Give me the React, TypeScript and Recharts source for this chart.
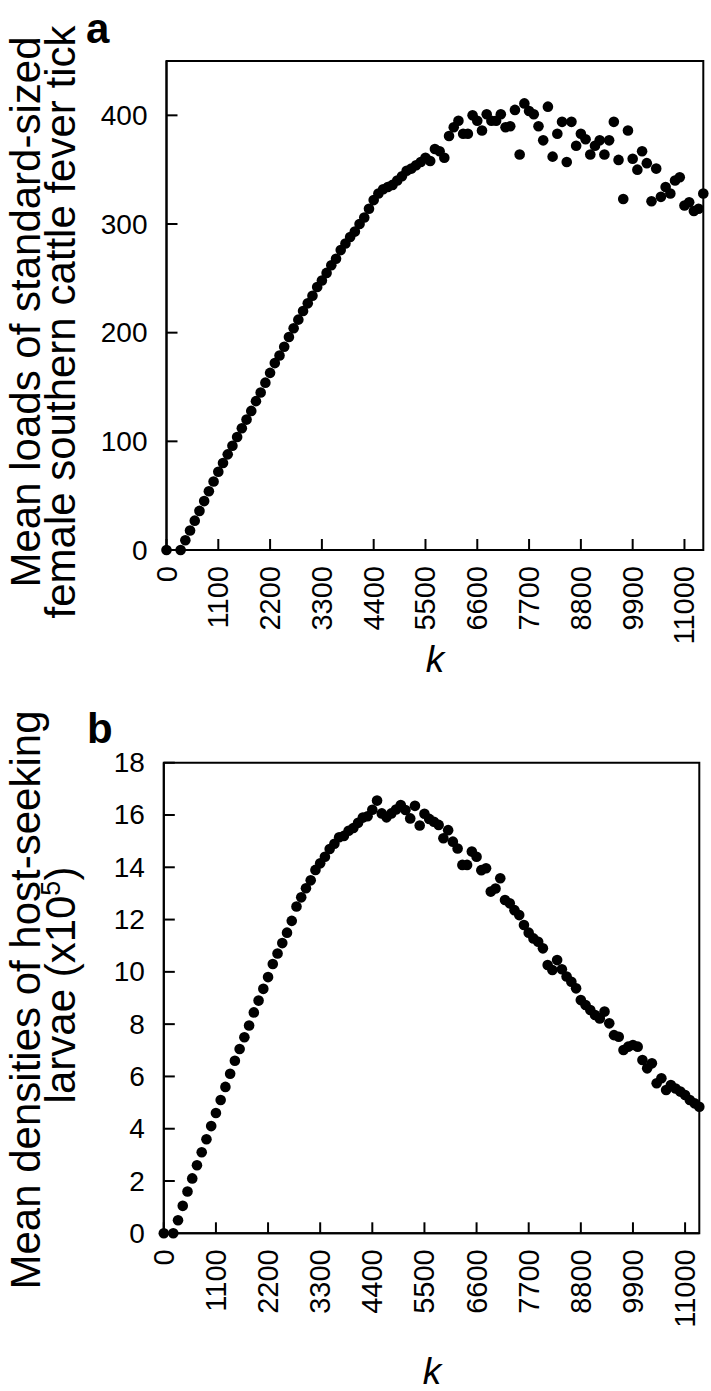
import React from "react";
import { ScatterChart, Scatter, XAxis, YAxis, ReferenceArea } from "recharts";

const FONT = '"Liberation Sans", Arial, sans-serif';

// panel a: k values and mean tick loads
const kA = [
  0, 300, 400, 500, 600, 700, 800, 900, 1000, 1100, 1200, 1300, 1400, 1500, 1600, 1700, 1800, 1900,
  2000, 2100, 2200, 2300, 2400, 2500, 2600, 2700, 2800, 2900, 3000, 3100, 3200, 3300, 3400, 3500,
  3600, 3700, 3800, 3900, 4000, 4100, 4200, 4300, 4400, 4500, 4600, 4700, 4800, 4900, 5000, 5100,
  5200, 5300, 5400, 5500, 5600, 5700, 5800, 5900, 6000, 6100, 6200, 6300, 6400, 6500, 6600, 6700,
  6800, 6900, 7000, 7100, 7200, 7300, 7400, 7500, 7600, 7700, 7800, 7900, 8000, 8100, 8200, 8300,
  8400, 8500, 8600, 8700, 8800, 8900, 9000, 9100, 9200, 9300, 9400, 9500, 9600, 9700, 9800, 9900,
  10000, 10100, 10200, 10300, 10400, 10500, 10600, 10700, 10800, 10900, 11000, 11100, 11200, 11300,
  11400,
];
const loadsA = [
  0, 0, 9, 18, 27, 36, 45, 54, 63, 72, 80, 88, 96, 104, 112, 120, 128, 137,
  145, 154, 163, 172, 179, 187, 196, 204, 212, 220, 227, 234, 242, 248, 255, 262,
  268, 276, 282, 288, 293, 300, 306, 314, 322, 328, 332, 334, 336, 340, 344, 349,
  351, 354, 357, 361, 358, 369, 367, 361, 381, 389, 395, 383, 383, 400, 395, 386,
  401, 395, 395, 401, 389, 390, 405, 364, 411, 404, 401, 390, 377, 408, 362, 383,
  394, 357, 394, 372, 383, 378, 364, 372, 377, 364, 377, 394, 359, 323, 386, 360,
  350, 367, 356, 321, 351, 325, 334, 328, 340, 343, 317, 320, 312, 314,
  328,
];

// panel b: k values and mean larval densities (x10^5)
const kB = [
  0, 200, 300, 400, 500, 600, 700, 800, 900, 1000, 1100, 1200, 1300, 1400, 1500, 1600, 1700, 1800,
  1900, 2000, 2100, 2200, 2300, 2400, 2500, 2600, 2700, 2800, 2900, 3000, 3100, 3200, 3300, 3400,
  3500, 3600, 3700, 3800, 3900, 4000, 4100, 4200, 4300, 4400, 4500, 4600, 4700, 4800, 4900, 5000,
  5100, 5200, 5300, 5400, 5500, 5600, 5700, 5800, 5900, 6000, 6100, 6200, 6300, 6400, 6500, 6600,
  6700, 6800, 6900, 7000, 7100, 7200, 7300, 7400, 7500, 7600, 7700, 7800, 7900, 8000, 8100, 8200,
  8300, 8400, 8500, 8600, 8700, 8800, 8900, 9000, 9100, 9200, 9300, 9400, 9500, 9600, 9700, 9800,
  9900, 10000, 10100, 10200, 10300, 10400, 10500, 10600, 10700, 10800, 10900, 11000, 11100, 11200,
  11300,
];
const larvaeB = [
  0, 0, 0.5, 1.05, 1.6, 2.1, 2.6, 3.1, 3.6, 4.1, 4.6, 5.1, 5.6, 6.1, 6.6, 7.05, 7.5, 7.95,
  8.45, 8.9, 9.35, 9.8, 10.3, 10.7, 11.1, 11.5, 11.95, 12.5, 12.85, 13.2, 13.5, 13.9, 14.15, 14.4,
  14.7, 14.9, 15.15, 15.2, 15.4, 15.5, 15.7, 15.9, 15.95, 16.2, 16.55, 16.06, 15.91, 16.06, 16.21, 16.38,
  16.19, 15.87, 16.35, 15.6, 16.05, 15.85, 15.74, 15.62, 15.11, 15.42, 14.98, 14.72, 14.09, 14.09, 14.6, 14.4,
  13.89, 13.96, 13.07, 13.19, 13.58, 12.75, 12.62, 12.36, 12.17, 11.79, 11.5, 11.28, 11.15, 10.9, 10.26, 10.07,
  10.45, 10.1, 9.82, 9.62, 9.37, 8.92, 8.73, 8.54, 8.35, 8.22, 8.48, 8.03, 7.58, 7.52, 7.01, 7.14,
  7.2, 7.14, 6.63, 6.31, 6.5, 5.74, 5.93, 5.48, 5.67, 5.54, 5.42, 5.29, 5.1, 4.97,
  4.84,
];

const xTicks = [0, 1100, 2200, 3300, 4400, 5500, 6600, 7700, 8800, 9900, 11000];
const yTicksA = [0, 100, 200, 300, 400];
const yTicksB = [0, 2, 4, 6, 8, 10, 12, 14, 16, 18];

const dataA = kA.map((k, i) => ({ k, v: loadsA[i] }));
const dataB = kB.map((k, i) => ({ k, v: larvaeB[i] }));

// ticks point inward, labels rotated under the axis
const XTick = ({ x, y, payload }: any) => (
  <g>
    <line x1={x} y1={y} x2={x} y2={y - 11} stroke="#000" strokeWidth={2} />
    <text
      x={x}
      y={y + 16}
      transform={`rotate(-90, ${x}, ${y + 16})`}
      textAnchor="end"
      dominantBaseline="central"
      fontSize={29}
      fontFamily={FONT}
      fill="#000"
    >
      {payload.value}
    </text>
  </g>
);

const YTick = ({ x, y, payload }: any) => (
  <g>
    <line x1={x} y1={y} x2={x + 11} y2={y} stroke="#000" strokeWidth={2} />
    <text x={x - 19} y={y} textAnchor="end" dominantBaseline="central" fontSize={28} fontFamily={FONT} fill="#000">
      {payload.value}
    </text>
  </g>
);

const Dot = (props: any) => <circle cx={props.cx} cy={props.cy} r={5.3} fill="#000" />;

const axisLine = { stroke: "#000", strokeWidth: 2 };

const Panel = ({ data, xMax, yMax, yTicks, yWidth, xHeight, margin, height }: any) => (
  <ScatterChart width={711} height={height} margin={margin}>
    <XAxis
      type="number"
      dataKey="k"
      domain={[0, xMax]}
      ticks={xTicks}
      interval={0}
      height={xHeight}
      axisLine={axisLine}
      tickLine={false}
      tickSize={0}
      tickMargin={0}
      tick={<XTick />}
    />
    <YAxis
      type="number"
      dataKey="v"
      domain={[0, yMax]}
      ticks={yTicks}
      interval={0}
      width={yWidth}
      axisLine={axisLine}
      tickLine={false}
      tickSize={0}
      tickMargin={0}
      tick={<YTick />}
    />
    <ReferenceArea x1={0} x2={xMax} y1={0} y2={yMax} fill="none" stroke="#000" strokeWidth={2} ifOverflow="visible" />
    <Scatter data={data} shape={<Dot />} isAnimationActive={false} />
  </ScatterChart>
);

const App = () => {
  return (
    <div style={{ position: "absolute", left: 0, top: 0, width: 711, height: 1391, background: "#fff" }}>
      <div style={{ position: "absolute", left: 0, top: 0 }}>
        <Panel
          data={dataA}
          xMax={11400}
          yMax={450}
          yTicks={yTicksA}
          yWidth={166.5}
          xHeight={150}
          height={700}
          margin={{ top: 61, right: 7.7, left: 0, bottom: 0 }}
        />
      </div>
      <div style={{ position: "absolute", left: 0, top: 700 }}>
        <Panel
          data={dataB}
          xMax={11300}
          yMax={18}
          yTicks={yTicksB}
          yWidth={163.8}
          xHeight={157.7}
          height={691}
          margin={{ top: 62.7, right: 11.7, left: 0, bottom: 0 }}
        />
      </div>
      <svg width={711} height={1391} style={{ position: "absolute", left: 0, top: 0, pointerEvents: "none" }}>
        <g fontFamily={FONT} fill="#000">
          <text x={86} y={43} fontSize={42} fontWeight="bold">a</text>
          <text x={87} y={743} fontSize={42} fontWeight="bold">b</text>
          <text x={40} y={312} fontSize={42} textAnchor="middle" transform="rotate(-90, 40, 312)">
            Mean loads of standard-sized
          </text>
          <text x={75} y={322} fontSize={42} textAnchor="middle" transform="rotate(-90, 75, 322)">
            female southern cattle fever tick
          </text>
          <text x={40} y={1000} fontSize={42} textAnchor="middle" transform="rotate(-90, 40, 1000)">
            Mean densities of host-seeking
          </text>
          <text x={75} y={985} fontSize={42} textAnchor="middle" transform="rotate(-90, 75, 985)">
            larvae (x10<tspan dy={-15} fontSize={27}>5</tspan><tspan dy={15}>)</tspan>
          </text>
          <text x={435} y={672} fontSize={37} fontStyle="italic" textAnchor="middle">k</text>
          <text x={432} y={1384} fontSize={37} fontStyle="italic" textAnchor="middle">k</text>
        </g>
      </svg>
    </div>
  );
};

export default App;
